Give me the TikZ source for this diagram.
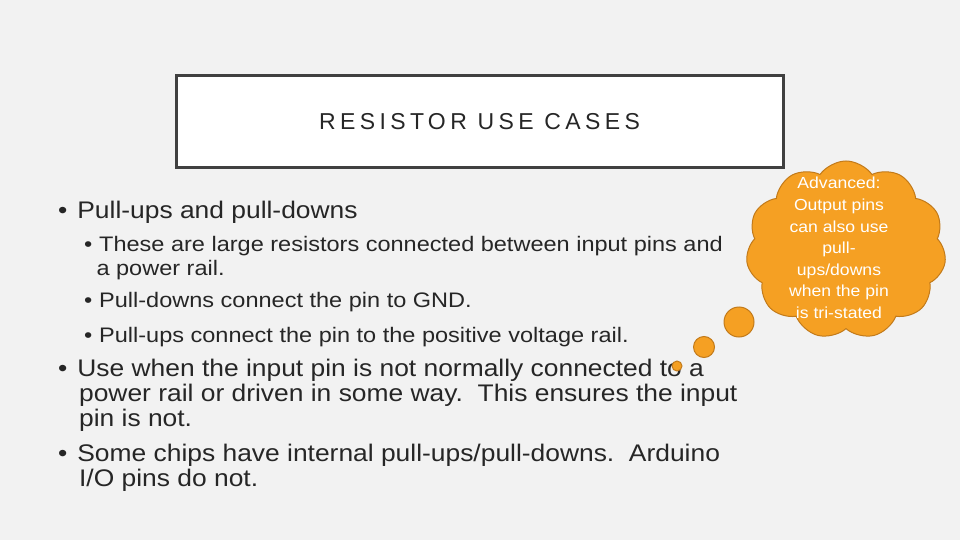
\documentclass[tikz,border=0pt]{standalone}
\usepackage{fontspec}
\setmainfont{Liberation Sans}
\usetikzlibrary{shapes.symbols}
\definecolor{bg}{HTML}{F2F2F2}
\definecolor{frame}{HTML}{404040}
\definecolor{txt}{HTML}{262626}
\definecolor{org}{HTML}{F5A023}
\definecolor{orgd}{HTML}{C27A1A}
\begin{document}
\begin{tikzpicture}[x=1pt,y=-1pt,
  bub/.style={circle,fill=org,draw=orgd,line width=1pt,inner sep=0pt},
  lvl1/.style={anchor=north west,align=left,text=txt,font=\fontsize{24}{25}\selectfont,inner sep=0pt,xscale=1.10,transform shape},
  lvl2/.style={anchor=north west,align=left,text=txt,font=\fontsize{21}{24}\selectfont,inner sep=0pt,xscale=1.12,transform shape}]
\fill[bg] (0,0) rectangle (960,540);
\useasboundingbox (0,0) rectangle (960,540);
\node[draw=frame,line width=3pt,fill=white,minimum width=607,minimum height=92,inner sep=0pt,
  font=\fontsize{23}{25}\selectfont,text=txt] (title) at (479.5,122) {\addfontfeature{LetterSpace=19}RESISTOR USE CASES};
\node[lvl1] (b1) at (58,201) {•\hspace{9pt}Pull-ups and pull-downs};
\node[lvl2] (s1) at (84,236) {•\hspace{6pt}These are large resistors connected between input pins and\\\hspace{11pt}a power rail.};
\node[lvl2] (s2) at (84,292) {•\hspace{6pt}Pull-downs connect the pin to GND.};
\node[lvl2] (s3) at (84,327) {•\hspace{6pt}Pull-ups connect the pin to the positive voltage rail.};
\node[lvl1] (b2) at (58,359) {•\hspace{9pt}Use when the input pin is not normally connected to a\\\hspace{19pt}power rail or driven in some way.\ \ This ensures the input\\\hspace{19pt}pin is not.};
\node[lvl1] (b3) at (58,444) {•\hspace{9pt}Some chips have internal pull-ups/pull-downs.\ \ Arduino\\\hspace{19pt}I/O pins do not.};
\node[cloud,cloud puffs=11,cloud puff arc=110,aspect=1.15,fill=org,draw=orgd,line width=1pt,
  minimum width=200,minimum height=178,inner sep=0pt] (cloud) at (846,250) {};
\node[bub,minimum size=30] (p1) at (739,322) {};
\node[bub,minimum size=21] (p2) at (704,347) {};
\node[bub,minimum size=10] (p3) at (677,366) {};
\node[text=white,align=center,font=\fontsize{16}{21.6}\selectfont,xscale=1.1,transform shape] (ctext) at (839,248)
 {Advanced:\\Output pins\\can also use\\pull-\\ups/downs\\when the pin\\is tri-stated};
\end{tikzpicture}
\end{document}
